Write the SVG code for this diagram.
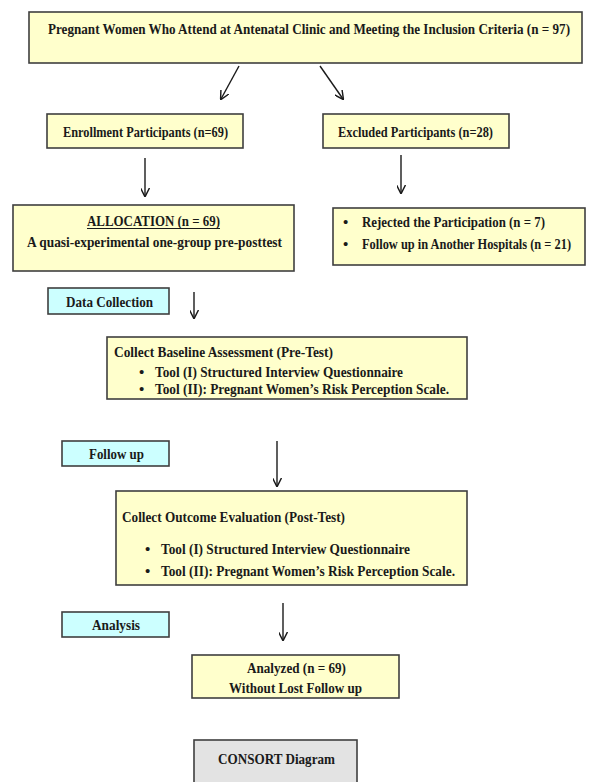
<svg xmlns="http://www.w3.org/2000/svg" width="595" height="782" viewBox="0 0 595 782">
<style>
.y{fill:#ffffcc;stroke:#3f3f3f;stroke-width:1.6}
.c{fill:#ccffff;stroke:#3f3f3f;stroke-width:1.6}
.g{fill:#e3e3e3;stroke:#3f3f3f;stroke-width:1.6}
text{font-family:"Liberation Serif","Times New Roman",serif;font-weight:bold;font-size:15px;fill:#1a1a1a}
.a{stroke:#1a1a1a;stroke-width:1.4;fill:none;marker-end:url(#ah)}
</style>
<defs>
<marker id="ah" viewBox="0 0 10 10" refX="9" refY="5" markerWidth="9" markerHeight="9" markerUnits="userSpaceOnUse" orient="auto">
<path d="M0,0 L10,5 L0,10" fill="none" stroke="#1a1a1a" stroke-width="1.6"/>
</marker>
</defs>
<rect width="595" height="782" fill="#ffffff"/>
<g id="connectors">
<line class="a" x1="239" y1="66" x2="221" y2="99"/>
<line class="a" x1="320" y1="66" x2="343" y2="99"/>
<line class="a" x1="145" y1="158" x2="145" y2="196"/>
<line class="a" x1="401" y1="155" x2="401" y2="193"/>
<line class="a" x1="194" y1="292" x2="194" y2="318"/>
<line class="a" x1="277" y1="441" x2="277" y2="486"/>
<line class="a" x1="283" y1="603" x2="283" y2="640"/>
</g>
<g id="n-top">
<rect class="y" x="29" y="12" width="553" height="51"/>
<text transform="translate(48,34) scale(0.82,1)" x="0" y="0" textLength="636.6" lengthAdjust="spacingAndGlyphs">Pregnant Women Who Attend at Antenatal Clinic and Meeting the Inclusion Criteria (n = 97)</text>
</g>
<g id="n-enroll">
<rect class="y" x="47" y="114" width="196" height="34"/>
<text x="63" y="137" textLength="165" lengthAdjust="spacingAndGlyphs">Enrollment Participants (n=69)</text>
</g>
<g id="n-excluded">
<rect class="y" x="323" y="114" width="186" height="34"/>
<text x="338" y="137" textLength="155" lengthAdjust="spacingAndGlyphs">Excluded Participants (n=28)</text>
</g>
<g id="n-allocation">
<rect class="y" x="13" y="205" width="281" height="66"/>
<text x="87" y="226" textLength="133" lengthAdjust="spacingAndGlyphs">ALLOCATION (n = 69)</text>
<line x1="87" y1="228.5" x2="220" y2="228.5" stroke="#1a1a1a" stroke-width="1"/>
<text x="27" y="247" textLength="255" lengthAdjust="spacingAndGlyphs">A quasi-experimental one-group pre-posttest</text>
</g>
<g id="n-reasons">
<rect class="y" x="333" y="208" width="252" height="57"/>
<text x="343" y="227">•</text>
<text x="362" y="227" textLength="183" lengthAdjust="spacingAndGlyphs">Rejected the Participation (n = 7)</text>
<text x="343" y="249">•</text>
<text transform="translate(362,249) scale(0.82,1)" x="0" y="0" textLength="254.9" lengthAdjust="spacingAndGlyphs">Follow up in Another Hospitals (n = 21)</text>
</g>
<g id="n-datacollection">
<rect class="c" x="48" y="288" width="121" height="26"/>
<text x="66" y="307" textLength="87" lengthAdjust="spacingAndGlyphs">Data Collection</text>
</g>
<g id="n-baseline">
<rect class="y" x="107" y="337" width="360" height="62"/>
<text x="114" y="357" textLength="219" lengthAdjust="spacingAndGlyphs">Collect Baseline Assessment (Pre-Test)</text>
<text x="139" y="377">•</text>
<text x="155" y="377" textLength="248" lengthAdjust="spacingAndGlyphs">Tool (I) Structured Interview Questionnaire</text>
<text x="139" y="394">•</text>
<text x="155" y="394" textLength="294" lengthAdjust="spacingAndGlyphs">Tool (II): Pregnant Women’s Risk Perception Scale.</text>
</g>
<g id="n-followup">
<rect class="c" x="62" y="441" width="107" height="25"/>
<text x="89" y="459" textLength="55" lengthAdjust="spacingAndGlyphs">Follow up</text>
</g>
<g id="n-outcome">
<rect class="y" x="116" y="491" width="351" height="94"/>
<text x="122" y="522" textLength="223" lengthAdjust="spacingAndGlyphs">Collect Outcome Evaluation (Post-Test)</text>
<text x="145" y="554">•</text>
<text x="161" y="554" textLength="249" lengthAdjust="spacingAndGlyphs">Tool (I) Structured Interview Questionnaire</text>
<text x="145" y="576">•</text>
<text x="161" y="576" textLength="294" lengthAdjust="spacingAndGlyphs">Tool (II): Pregnant Women’s Risk Perception Scale.</text>
</g>
<g id="n-analysis">
<rect class="c" x="62" y="612" width="107" height="25"/>
<text x="92" y="630" textLength="48" lengthAdjust="spacingAndGlyphs">Analysis</text>
</g>
<g id="n-analyzed">
<rect class="y" x="192" y="655" width="207" height="43"/>
<text x="247" y="673" textLength="99" lengthAdjust="spacingAndGlyphs">Analyzed (n = 69)</text>
<text x="229" y="693" textLength="133" lengthAdjust="spacingAndGlyphs">Without Lost Follow up</text>
</g>
<g id="n-consort">
<rect class="g" x="194" y="740" width="163" height="50"/>
<text x="218" y="764" textLength="117" lengthAdjust="spacingAndGlyphs">CONSORT Diagram</text>
</g>
</svg>
